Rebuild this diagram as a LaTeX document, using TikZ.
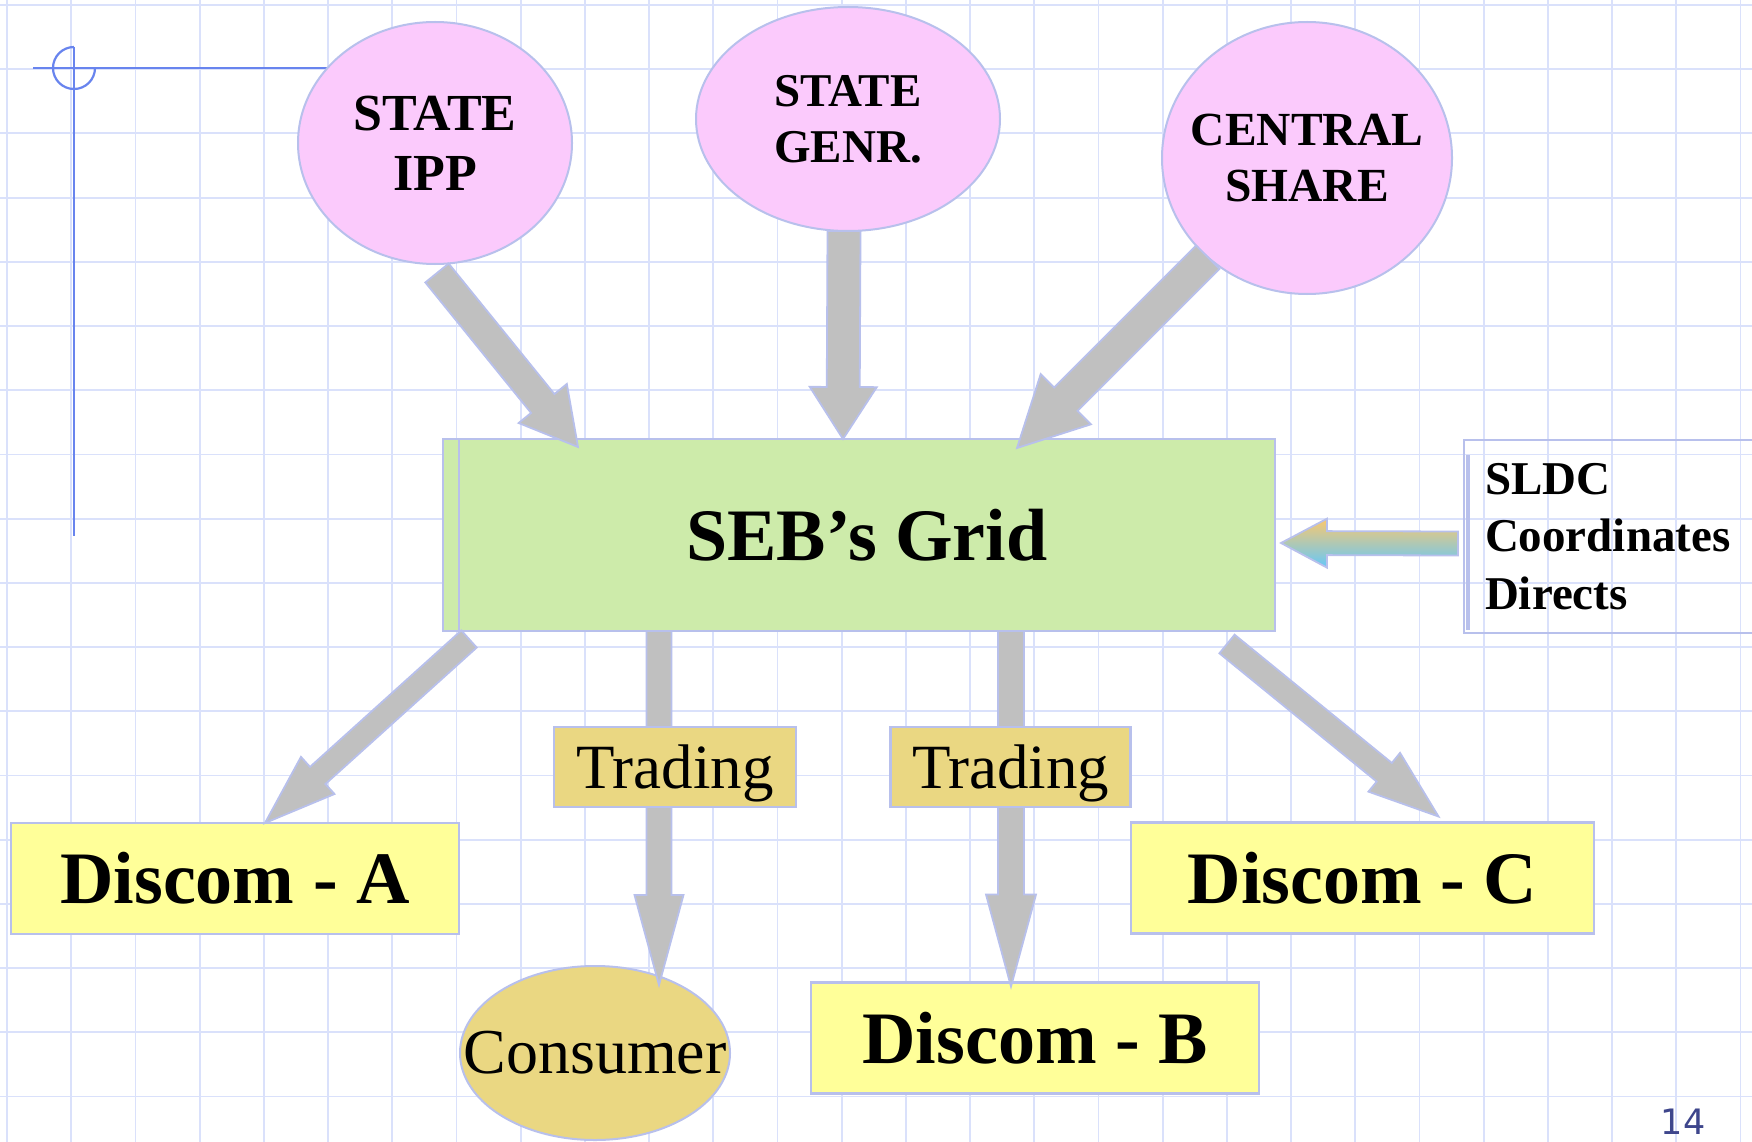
\documentclass[tikz,border=0pt]{standalone}
\usepackage{fontspec}
\setmainfont{Liberation Serif}
\newfontfamily\slidenumfont{DejaVu Sans}
\usetikzlibrary{shapes.geometric,calc}

\definecolor{gridline}{RGB}{218,225,251}
\definecolor{rulecol}{RGB}{104,132,238}
\definecolor{edgecol}{RGB}{184,192,236}
\definecolor{pinkfill}{RGB}{251,202,252}
\definecolor{greenfill}{RGB}{205,235,170}
\definecolor{yellowfill}{RGB}{255,255,153}
\definecolor{tanfill}{RGB}{234,215,130}
\definecolor{arrowgray}{RGB}{192,192,192}
\definecolor{sldcorange}{RGB}{250,200,110}
\definecolor{sldcblue}{RGB}{100,200,250}
\definecolor{numcol}{RGB}{62,70,140}

% block arrow: #1 style, #2 tail coordinate, #3 tip coordinate,
% #4 half shaft width, #5 half head width, #6 head length
\newcommand\blockarrow[6]{%
  \coordinate (#2-#3-base) at ($(#3)!#6!(#2)$);
  \path[#1]
    ($(#2)!#4!90:(#3)$) -- ($(#2-#3-base)!#4!90:(#3)$)
    -- ($(#2-#3-base)!#5!90:(#3)$) -- (#3)
    -- ($(#2-#3-base)!#5!-90:(#3)$) -- ($(#2-#3-base)!#4!-90:(#3)$)
    -- ($(#2)!#4!-90:(#3)$) -- cycle;
}
% zero-width centred line, so an ellipse keeps its given size
\newcommand\zline[1]{\makebox[0pt]{#1}}

\begin{document}
\begin{tikzpicture}[x=1pt,y=-1pt,
  bubble/.style={ellipse, draw=edgecol, line width=2pt, fill=pinkfill,
    inner sep=0pt, outer sep=0pt, align=center},
  box/.style={rectangle, draw=edgecol, line width=2.5pt, inner sep=0pt, outer sep=0pt},
  discom/.style={box, fill=yellowfill, minimum width=448pt, minimum height=111pt,
    font=\fontsize{74}{80}\selectfont\bfseries},
  tradebox/.style={box, fill=tanfill, minimum width=242pt, minimum height=80pt,
    text depth=0pt, font=\fontsize{63}{70}\selectfont},
  grayarrow/.style={fill=arrowgray, draw=edgecol, line width=1.8pt, line join=miter},
  sldcarrow/.style={top color=sldcorange, bottom color=sldcblue, draw=edgecol,
    line width=1.8pt, line join=miter},
]
\useasboundingbox (0,0) rectangle (1752,1142);
\fill[white] (0,0) rectangle (1752,1142);

% squared paper
\foreach \i in {0,...,27}
  \draw[gridline, line width=1.8pt] ({7+64.2*\i},0) -- ({7+64.2*\i},1142);
\foreach \j in {0,...,17}
  \draw[gridline, line width=1.8pt] (0,{5+64.2*\j}) -- (1752,{5+64.2*\j});

% corner rule with its small circle
\draw[rulecol, line width=2.2pt] (33,68) -- (435,68);
\draw[rulecol, line width=2.2pt] (74,47) -- (74,536);
\draw[rulecol, line width=2.2pt] (74,47) arc[start angle=90, end angle=360, radius=21pt];

% generation sources
\node[bubble, minimum width=274pt, minimum height=242pt,
  font=\fontsize{52}{60}\selectfont\bfseries] (ipp) at (435,143)
  {\zline{STATE}\\\zline{IPP}};
\node[bubble, minimum width=304pt, minimum height=224pt,
  font=\fontsize{47}{56}\selectfont\bfseries] (genr) at (848,119)
  {\zline{STATE}\\\zline{GENR.}};
\node[bubble, minimum width=290pt, minimum height=272pt,
  font=\fontsize{47.5}{56}\selectfont\bfseries] (central) at (1307,158)
  {\zline{CENTRAL}\\\zline{SHARE}};

% the grid
\node[box, fill=greenfill, minimum width=816pt, minimum height=192pt,
  font=\fontsize{74}{80}\selectfont\bfseries] (grid) at (867,535) {SEB’s Grid};
\path[fill=greenfill, draw=edgecol, line width=2.5pt]
  (grid.north west) rectangle ($(grid.south west)+(-16,0)$);

% distribution companies and consumer
\node[discom] (discomA) at (235,878.5) {Discom - A};
\node[discom, minimum width=463pt] (discomC) at (1362.5,878) {Discom - C};
\node[discom] (discomB) at (1035,1038) {Discom - B};
\node[ellipse, draw=edgecol, line width=2pt, fill=tanfill, inner sep=0pt, outer sep=0pt,
  minimum width=270pt, minimum height=174pt,
  font=\fontsize{64}{70}\selectfont] (consumer) at (595,1053) {\zline{Consumer}};

% load despatch centre
\node[box, anchor=north west, minimum height=193pt, text width=260pt, inner xsep=21pt,
  align=left, font=\fontsize{47}{57.5}\selectfont\bfseries] (sldc) at (1464,440)
  {SLDC\\Coordinates\\Directs};
\draw[edgecol, line width=4pt] ($(sldc.north west)+(4,15)$) -- ($(sldc.south west)+(4,-3)$);

% arrow ends
\coordinate (a1t) at ($(ipp.south)+(2,9)$);
\coordinate (a1h) at ($(grid.north west)+(119,8)$);
\coordinate (a2t) at ($(genr.south)+(-4,0)$);
\coordinate (a2h) at ($(grid.north west)+(384,0)$);
\coordinate (a3t) at (central.-135);
\coordinate (a3h) at ($(grid.north west)+(558,9)$);
\coordinate (a4t) at ($(grid.south west)+(10,8)$);
\coordinate (a4h) at ($(discomA.north)+(30,0)$);
\coordinate (a5t) at ($(grid.south east)+(-48,13)$);
\coordinate (a5h) at ($(discomC.north)+(76,-6)$);
\coordinate (a6t) at ($(grid.south west)+(200,0)$);
\coordinate (a6h) at ($(consumer.north)+(64,19)$);
\coordinate (a7t) at ($(grid.south west)+(552,0)$);
\coordinate (a7h) at ($(discomB.north)+(-24,4)$);
\coordinate (a8t) at ($(sldc.west)+(-6,7)$);
\coordinate (a8h) at ($(grid.east)+(6,8)$);

% power flow arrows
\blockarrow{grayarrow}{a1t}{a1h}{15pt}{31pt}{56pt}
\blockarrow{grayarrow}{a2t}{a2h}{16.5pt}{33.5pt}{52pt}
\blockarrow{grayarrow}{a3t}{a3h}{16.5pt}{35.5pt}{69pt}
\blockarrow{grayarrow}{a4t}{a4h}{11.5pt}{25pt}{71pt}
\blockarrow{grayarrow}{a5t}{a5h}{12pt}{25pt}{70pt}
\blockarrow{grayarrow}{a6t}{a6h}{12.5pt}{24.5pt}{90pt}
\blockarrow{grayarrow}{a7t}{a7h}{13pt}{25pt}{92pt}
\blockarrow{sldcarrow}{a8t}{a8h}{12pt}{24.5pt}{46pt}

% trading labels on the vertical arrows
\node[tradebox] (trade1) at (675,767) {Trading};
\node[tradebox, minimum width=240pt] (trade2) at (1010.6,767) {Trading};

% slide number
\node[anchor=base, text=numcol, inner sep=0pt,
  font=\slidenumfont\fontsize{35}{40}\selectfont] (pagenum) at (1683,1134) {14};
\end{tikzpicture}
\end{document}
